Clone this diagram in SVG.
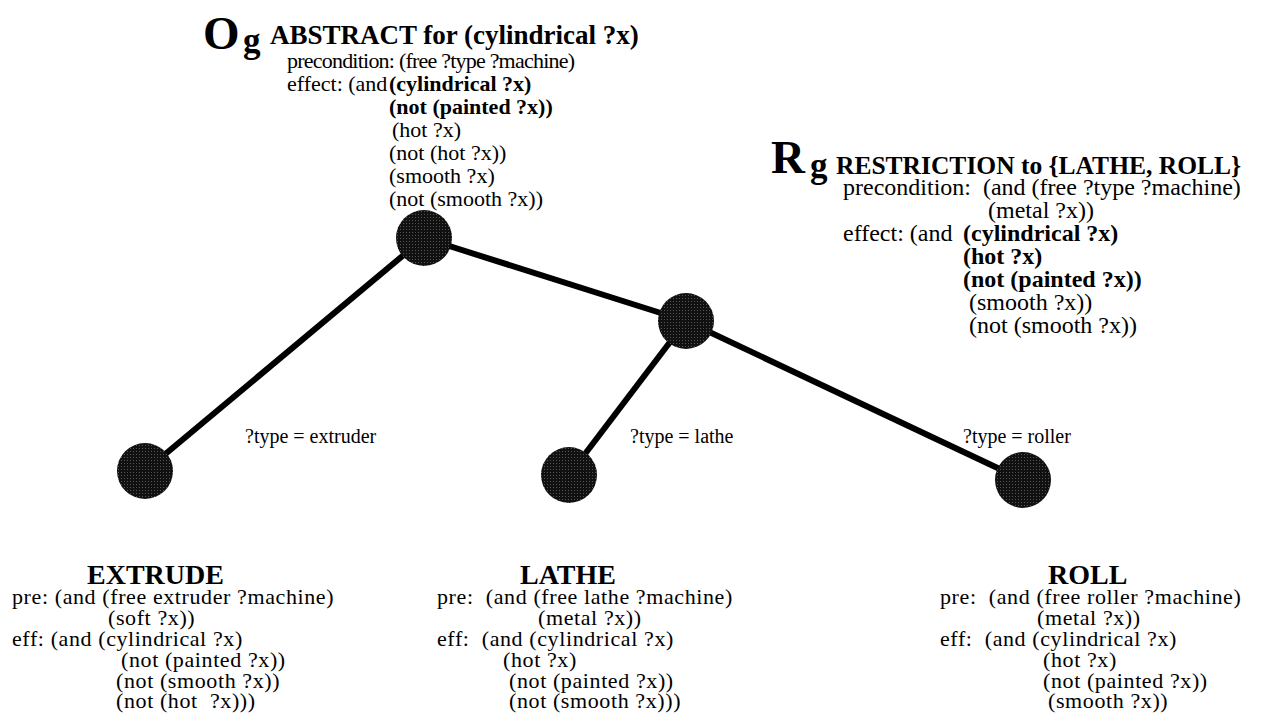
<svg xmlns="http://www.w3.org/2000/svg" width="1262" height="713" viewBox="0 0 1262 713">
<defs>
<pattern id="stip" width="3" height="3" patternUnits="userSpaceOnUse">
<rect width="3" height="3" fill="#111"/>
<rect x="1" y="1" width="1" height="1" fill="#555"/>
</pattern>
</defs>
<style>
text{font-family:"Liberation Serif","Times New Roman",serif;fill:#000}
.b{font-weight:bold}
.big{font-size:47px;font-weight:bold}
.sub{font-size:35px;font-weight:bold}
.ttl{font-size:27px;font-weight:bold}
.ttl2{font-size:25.5px;font-weight:bold}
.lt{font-size:28px;font-weight:bold}
.tl{font-size:22px}
.t{font-size:24px}
.lf{font-size:22px;letter-spacing:0.6px}
.el{font-size:20px}
.node{fill:url(#stip)}
.edge{stroke:#000;stroke-width:6;fill:none}
</style>
<g id="connectors">
<line class="edge" x1="424" y1="238" x2="145" y2="471"/>
<line class="edge" x1="424" y1="238" x2="686" y2="321"/>
<line class="edge" x1="686" y1="321" x2="569" y2="475"/>
<line class="edge" x1="686" y1="321" x2="1023" y2="480"/>
<text class="el" x="245" y="443">?type = extruder</text>
<text class="el" x="630" y="443">?type = lathe</text>
<text class="el" x="963" y="443">?type = roller</text>
</g>
<g id="node-abstract">
<ellipse class="node" cx="424" cy="238" rx="28" ry="28"/>
<text class="big" x="203" y="49">O</text>
<text class="sub" x="243" y="52">g</text>
<text class="ttl" x="270" y="44">ABSTRACT for (cylindrical ?x)</text>
<text class="tl" x="287" y="68" textLength="288" lengthAdjust="spacing">precondition: (free ?type ?machine)</text>
<text class="tl" x="287" y="91">effect: (and <tspan class="b" x="389">(cylindrical ?x)</tspan></text>
<text class="tl b" x="389" y="114">(not (painted ?x))</text>
<text class="tl" x="392" y="137">(hot ?x)</text>
<text class="tl" x="389" y="160">(not (hot ?x))</text>
<text class="tl" x="389" y="183">(smooth ?x)</text>
<text class="tl" x="389" y="206">(not (smooth ?x))</text>
</g>
<g id="node-restriction">
<ellipse class="node" cx="686" cy="321" rx="28" ry="28"/>
<text class="big" x="771" y="173">R</text>
<text class="sub" x="810" y="177">g</text>
<text class="ttl2" x="836" y="174">RESTRICTION to {LATHE, ROLL}</text>
<text class="t" x="843" y="195" xml:space="preserve">precondition:  (and (free ?type ?machine)</text>
<text class="t" x="988" y="218">(metal ?x))</text>
<text class="t" x="843" y="241">effect: (and <tspan class="b" x="963">(cylindrical ?x)</tspan></text>
<text class="t b" x="963" y="264">(hot ?x)</text>
<text class="t b" x="963" y="287">(not (painted ?x))</text>
<text class="t" x="969" y="310">(smooth ?x))</text>
<text class="t" x="969" y="333">(not (smooth ?x))</text>
</g>
<g id="node-extrude">
<ellipse class="node" cx="145" cy="471" rx="28" ry="28"/>
<text class="lt" x="87" y="584">EXTRUDE</text>
<text class="lf" x="12" y="604">pre: (and (free extruder ?machine)</text>
<text class="lf" x="108" y="625">(soft ?x))</text>
<text class="lf" x="12" y="646">eff: (and (cylindrical ?x)</text>
<text class="lf" x="121" y="667">(not (painted ?x))</text>
<text class="lf" x="116" y="688">(not (smooth ?x))</text>
<text class="lf" x="116" y="708" xml:space="preserve">(not (hot  ?x)))</text>
</g>
<g id="node-lathe">
<ellipse class="node" cx="569" cy="475" rx="28" ry="28"/>
<text class="lt" x="520" y="584">LATHE</text>
<text class="lf" x="437" y="604" xml:space="preserve">pre:  (and (free lathe ?machine)</text>
<text class="lf" x="538" y="625">(metal ?x))</text>
<text class="lf" x="437" y="646" xml:space="preserve">eff:  (and (cylindrical ?x)</text>
<text class="lf" x="503" y="667">(hot ?x)</text>
<text class="lf" x="509" y="688">(not (painted ?x))</text>
<text class="lf" x="509" y="708">(not (smooth ?x)))</text>
</g>
<g id="node-roll">
<ellipse class="node" cx="1023" cy="480" rx="28" ry="28"/>
<text class="lt" x="1048" y="584">ROLL</text>
<text class="lf" x="940" y="604" xml:space="preserve">pre:  (and (free roller ?machine)</text>
<text class="lf" x="1037" y="625">(metal ?x))</text>
<text class="lf" x="940" y="646" xml:space="preserve">eff:  (and (cylindrical ?x)</text>
<text class="lf" x="1043" y="667">(hot ?x)</text>
<text class="lf" x="1043" y="688">(not (painted ?x))</text>
<text class="lf" x="1048" y="708">(smooth ?x))</text>
</g>
</svg>
